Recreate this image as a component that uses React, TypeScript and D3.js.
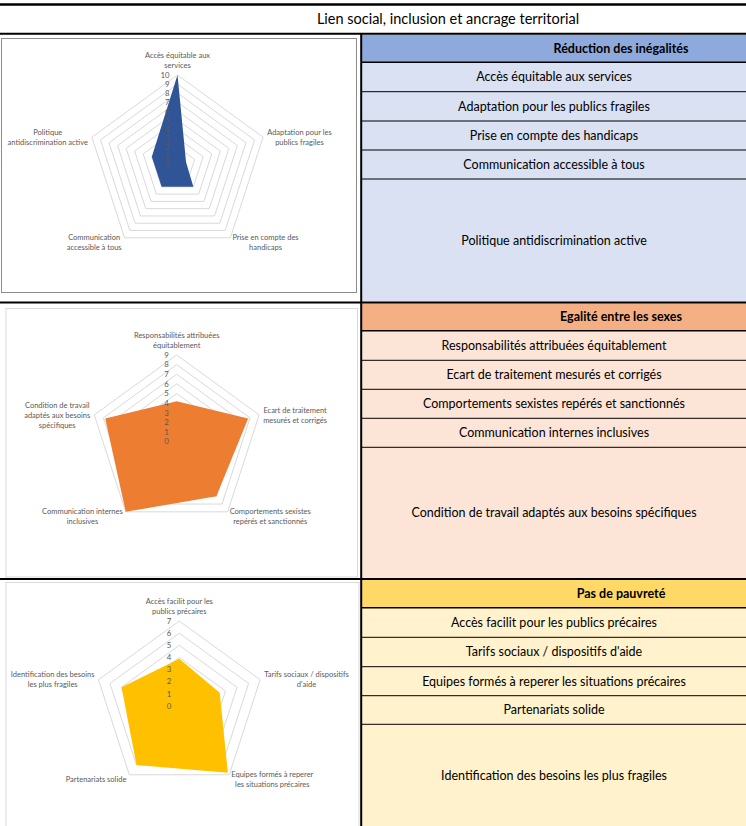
import React from 'react';
import * as d3 from 'd3';

const W = 746;
const H = 826;

const titleText = 'Lien social, inclusion et ancrage territorial';

const inegalitesTitle = 'Réduction des inégalités';
const inegalitesCategories = [
  'Accès équitable aux services',
  'Adaptation pour les publics fragiles',
  'Prise en compte des handicaps',
  'Communication accessible à tous',
  'Politique antidiscrimination active',
];
const inegalitesAxisLabels = [
  'Accès équitable aux\nservices',
  'Adaptation pour les\npublics fragiles',
  'Prise en compte des\nhandicaps',
  'Communication\naccessible à tous',
  'Politique\nantidiscrimination active',
];
const inegalitesValues = [10, 1, 3, 3, 3];
const inegalitesTicks = [0, 1, 2, 3, 4, 5, 6, 7, 8, 9, 10];

const sexesTitle = 'Egalité entre les sexes';
const sexesCategories = [
  'Responsabilités attribuées équitablement',
  'Ecart de traitement mesurés et corrigés',
  'Comportements sexistes repérés et sanctionnés',
  'Communication internes inclusives',
  'Condition de travail adaptés aux besoins spécifiques',
];
const sexesAxisLabels = [
  'Responsabilités attribuées\néquitablement',
  'Ecart de traitement\nmesurés et corrigés',
  'Comportements sexistes\nrepérés et sanctionnés',
  'Communication internes\ninclusives',
  'Condition de travail\nadaptés aux besoins\nspécifiques',
];
const sexesValues = [4.2, 7.8, 7, 9, 7.8];
const sexesTicks = [0, 1, 2, 3, 4, 5, 6, 7, 8, 9];

const pauvreteTitle = 'Pas de pauvreté';
const pauvreteCategories = [
  'Accès facilit pour les publics précaires',
  'Tarifs sociaux / dispositifs d\'aide',
  'Equipes formés à reperer les situations précaires',
  'Partenariats solide',
  'Identification des besoins les plus fragiles',
];
const pauvreteAxisLabels = [
  'Accès facilit pour les\npublics précaires',
  'Tarifs sociaux / dispositifs\nd\'aide',
  'Equipes formés à reperer\nles situations précaires',
  'Partenariats solide',
  'Identification des besoins\nles plus fragiles',
];
const pauvreteValues = [3.9, 3.5, 6.8, 6, 5];
const pauvreteTicks = [0, 1, 2, 3, 4, 5, 6, 7];

const FONT = 'Lato, "Open Sans", sans-serif';
const LABEL_SIZE = 7.5;

let measureCtx: CanvasRenderingContext2D | null = null;
function textWidth(s: string, size: number): number {
  if (!measureCtx) {
    const c = document.createElement('canvas');
    measureCtx = c.getContext('2d');
  }
  if (!measureCtx) return s.length * size * 0.48;
  measureCtx.font = `${size}px Lato`;
  return measureCtx.measureText(s).width;
}

type RadarProps = {
  cx: number; cy: number; R: number;
  values: number[]; ticks: number[]; labels: string[]; color: string;
  box: [number, number, number, number]; boxStroke: string;
};

function Radar({ cx, cy, R, values, ticks, labels, color, box, boxStroke }: RadarProps) {
  const max = ticks[ticks.length - 1];
  const r = d3.scaleLinear().domain([0, max]).range([0, R]);
  const n = labels.length;
  const angle = d3.scaleLinear().domain([0, n]).range([0, 2 * Math.PI]);
  const radial = d3.lineRadial<number>()
    .angle((_, i) => angle(i))
    .radius(d => r(d))
    .curve(d3.curveLinearClosed);
  const rings = ticks.filter(t => t > 0);
  const lineH = 10;
  return (
    <g>
      <rect x={box[0]} y={box[1]} width={box[2] - box[0]} height={box[3] - box[1]} fill="#fff" stroke={boxStroke} strokeWidth={1} />
      <g transform={`translate(${cx},${cy})`}>
        {rings.map(t => (
          <path key={t} d={radial(labels.map(() => t)) || ''} fill="none" stroke="#D9D9D9" strokeWidth={1} />
        ))}
        <path d={radial(values) || ''} fill={color} stroke="none" />
        {ticks.map(t => (
          <text key={t} x={-8} y={-r(t)} dy="0.35em" textAnchor="end" fontSize={7.8} fill="#595959" fontFamily={FONT}>{t}</text>
        ))}
        {labels.map((lab, i) => {
          const a = angle(i);
          const vx = Math.sin(a) * R;
          const vy = -Math.cos(a) * R;
          const lines = lab.split('\n');
          const bw = Math.max(...lines.map(l => textWidth(l, LABEL_SIZE)));
          let x = vx;
          let y0 = 0;
          const blockH = lines.length * lineH;
          if (i === 0) {
            y0 = vy - 5 - blockH + lineH / 2;
          } else if (Math.abs(Math.sin(a)) > 0.9) {
            const side = Math.sin(a) > 0 ? 1 : -1;
            x = vx + side * (4 + bw / 2);
            y0 = vy - blockH / 2 + lineH / 2;
          } else {
            const side = Math.sin(a) > 0 ? 1 : -1;
            x = vx + side * ((side > 0 ? 2 : 3) + bw / 2);
            y0 = vy + 5 - blockH / 2 + lineH / 2;
          }
          return (
            <text key={i} textAnchor="middle" fontSize={LABEL_SIZE} fill="#595959" fontFamily={FONT}>
              {lines.map((l, j) => (
                <tspan key={j} x={x} y={y0 + j * lineH} dy="0.35em">{l}</tspan>
              ))}
            </text>
          );
        })}
      </g>
    </g>
  );
}

type TableProps = {
  title: string; categories: string[]; bounds: number[];
  headerTop: number; headerFill: string; rowFill: string;
};

function TableSection({ title, categories, bounds, headerTop, headerFill, rowFill }: TableProps) {
  const x0 = 362;
  const x1 = W;
  const rowCx = 554;
  const headCx = 621;
  return (
    <g fontFamily={FONT}>
      <rect x={x0} y={headerTop} width={x1 - x0} height={bounds[0] - headerTop} fill={headerFill} />
      <rect x={x0} y={bounds[0]} width={x1 - x0} height={bounds[bounds.length - 1] - bounds[0]} fill={rowFill} />
      <text x={headCx} y={(headerTop + bounds[0]) / 2} dy="0.35em" textAnchor="middle" fontSize={12.5} fontWeight="bold" fill="#000">{title}</text>
      {categories.map((c, i) => (
        <text key={i} x={rowCx} y={(bounds[i] + bounds[i + 1]) / 2} dy="0.35em" textAnchor="middle" fontSize={12.5} fill="#000">{c}</text>
      ))}
      {bounds.slice(0, -1).map((b, i) => (
        <line key={i} x1={x0} x2={x1} y1={b} y2={b} stroke="#000" strokeWidth={i === 0 ? 1.6 : 1} />
      ))}
    </g>
  );
}

export default function App() {
  return (
    <div style={{ position: 'absolute', left: 0, top: 0, width: W, height: H, background: '#fff' }}>
      <svg width={W} height={H} viewBox={`0 0 ${W} ${H}`} style={{ display: 'block' }}>
        <rect x={0} y={0} width={W} height={H} fill="#fff" />
        <text x={448} y={19} dy="0.35em" textAnchor="middle" fontSize={14.5} fontFamily={FONT} fill="#000">{titleText}</text>

        <TableSection title={inegalitesTitle} categories={inegalitesCategories}
          bounds={[62.3, 91.7, 121, 150, 179, 301.7]} headerTop={34.7} headerFill="#8EA9DB" rowFill="#D9E1F2" />
        <TableSection title={sexesTitle} categories={sexesCategories}
          bounds={[330.7, 360.3, 389.3, 418.3, 447.3, 578]} headerTop={303.3} headerFill="#F4B084" rowFill="#FCE4D6" />
        <TableSection title={pauvreteTitle} categories={pauvreteCategories}
          bounds={[607.7, 637.3, 666.7, 695.7, 724.3, 826]} headerTop={580} headerFill="#FFD966" rowFill="#FFF2CC" />

        <Radar cx={177.5} cy={165} R={90} values={inegalitesValues} ticks={inegalitesTicks}
          labels={inegalitesAxisLabels} color="#2F5597" box={[1.5, 38.5, 356.5, 292.5]} boxStroke="#8C8C8C" />
        <Radar cx={176.7} cy={441.7} R={86.7} values={sexesValues} ticks={sexesTicks}
          labels={sexesAxisLabels} color="#ED7D31" box={[6, 308.5, 357.5, 577]} boxStroke="#D9D9D9" />
        <Radar cx={179.3} cy={706} R={85} values={pauvreteValues} ticks={pauvreteTicks}
          labels={pauvreteAxisLabels} color="#FFC000" box={[6, 582.5, 359, 840]} boxStroke="#D9D9D9" />

        <line x1={0} x2={W} y1={4.5} y2={4.5} stroke="#000" strokeWidth={2.5} />
        <line x1={0} x2={W} y1={33.7} y2={33.7} stroke="#000" strokeWidth={2} />
        <line x1={0} x2={W} y1={302.5} y2={302.5} stroke="#000" strokeWidth={2} />
        <line x1={0} x2={W} y1={579} y2={579} stroke="#000" strokeWidth={2} />
        <line x1={361.2} x2={361.2} y1={33} y2={H} stroke="#000" strokeWidth={2} />
      </svg>
    </div>
  );
}
